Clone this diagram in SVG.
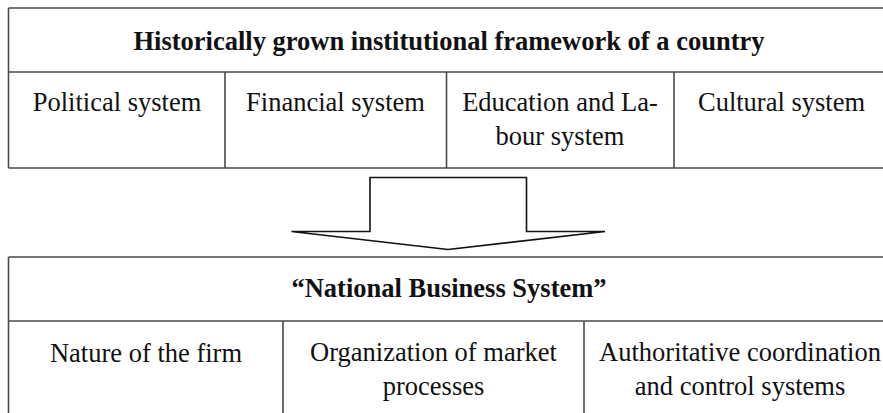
<svg xmlns="http://www.w3.org/2000/svg" width="883" height="413" viewBox="0 0 883 413">
  <style>
    .grid { fill: none; stroke: #4a4a4a; stroke-width: 1.6; }
    .arrow { fill: #ffffff; stroke: #111111; stroke-width: 1.6; stroke-linejoin: miter; }
    text { font-family: "Liberation Serif", "Times New Roman", serif; font-size: 26.5px; fill: #111111; text-anchor: middle; }
    .head { font-weight: bold; }
  </style>
  <rect width="883" height="413" fill="#ffffff"/>

  <!-- Institutional framework table -->
  <g id="framework">
    <path class="grid" d="M8.5 8H895 M8.5 72H895 M8.5 168H895 M8.5 8V168 M225 72V168 M446.5 72V168 M674 72V168"/>
    <text class="head" x="449" y="50">Historically grown institutional framework of a country</text>
  </g>
  <g id="political"><text x="117" y="111">Political system</text></g>
  <g id="financial"><text x="335.5" y="111">Financial system</text></g>
  <g id="education">
    <text x="560" y="111">Education and La-</text>
    <text x="560" y="145">bour system</text>
  </g>
  <g id="cultural"><text x="781.5" y="111">Cultural system</text></g>

  <!-- Block arrow between the two tables -->
  <g id="connectors">
    <path class="arrow" d="M370 231.5V177.5H526.5V231.5H605L448 249.5L291.5 231.5Z"/>
  </g>

  <!-- National business system table -->
  <g id="nbs">
    <path class="grid" d="M8.5 257H900 M8.5 321H900 M8.5 257V420 M283 321V420 M584 321V420"/>
    <text class="head" x="449" y="297">“National Business System”</text>
  </g>
  <g id="firm"><text x="146" y="362">Nature of the firm</text></g>
  <g id="market">
    <text x="433.5" y="361">Organization of market</text>
    <text x="433.5" y="395">processes</text>
  </g>
  <g id="coordination">
    <text x="740" y="361">Authoritative coordination</text>
    <text x="740" y="395">and control systems</text>
  </g>
</svg>
